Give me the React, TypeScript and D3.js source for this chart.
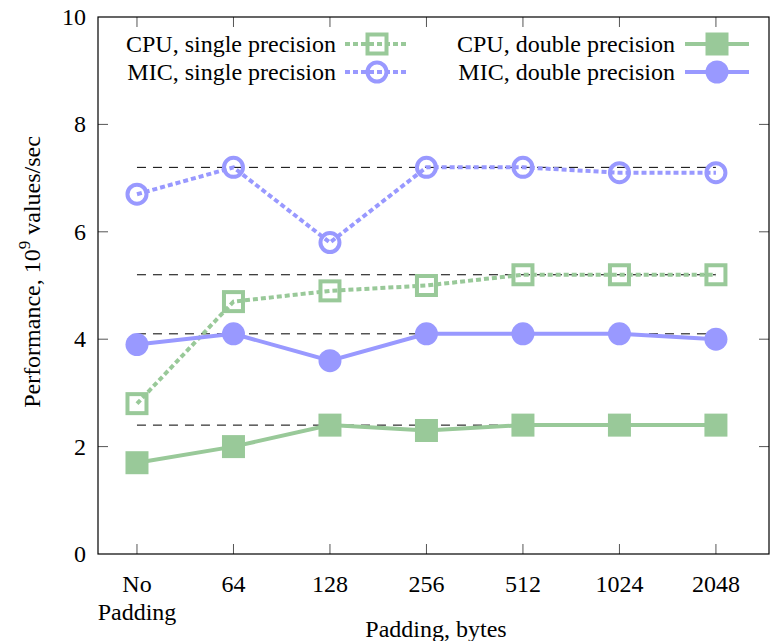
import { useEffect, useRef } from 'react';
import { select, scaleLinear, line } from 'd3';

const categories = ['No\nPadding', '64', '128', '256', '512', '1024', '2048'];
const cpuSingle = [2.8, 4.7, 4.9, 5.0, 5.2, 5.2, 5.2];
const micSingle = [6.7, 7.2, 5.8, 7.2, 7.2, 7.1, 7.1];
const cpuDouble = [1.7, 2.0, 2.4, 2.3, 2.4, 2.4, 2.4];
const micDouble = [3.9, 4.1, 3.6, 4.1, 4.1, 4.1, 4.0];
const refLevels = [7.2, 5.2, 4.1, 2.4];
const yTicks = [0, 2, 4, 6, 8, 10];

const width = 770;
const height = 641;
const margin = { top: 17, right: 1, bottom: 87, left: 98 };

const green = '#99c999';
const purple = '#9999ff';
const font = "'Liberation Serif', 'Times New Roman', Times, 'DejaVu Serif', serif";
const fs = 24;

const series = [
  { name: 'CPU, single precision', values: cpuSingle, color: green, dashed: true, marker: 'square', open: true },
  { name: 'MIC, single precision', values: micSingle, color: purple, dashed: true, marker: 'circle', open: true },
  { name: 'CPU, double precision', values: cpuDouble, color: green, dashed: false, marker: 'square', open: false },
  { name: 'MIC, double precision', values: micDouble, color: purple, dashed: false, marker: 'circle', open: false },
];

function drawMarker(g, s, cx, cy) {
  if (s.marker === 'square') {
    const size = s.open ? 19 : 23;
    g.append('rect')
      .attr('x', cx - size / 2)
      .attr('y', cy - size / 2)
      .attr('width', size)
      .attr('height', size)
      .attr('fill', s.open ? 'none' : s.color)
      .attr('stroke', s.open ? s.color : 'none')
      .attr('stroke-width', 4);
  } else {
    g.append('circle')
      .attr('cx', cx)
      .attr('cy', cy)
      .attr('r', s.open ? 9.5 : 11.5)
      .attr('fill', s.open ? 'none' : s.color)
      .attr('stroke', s.open ? s.color : 'none')
      .attr('stroke-width', 4);
  }
}

function App() {
  const ref = useRef(null);

  useEffect(() => {
    const svg = select(ref.current);
    svg.selectAll('*').remove();

    const x = scaleLinear().domain([-0.404, 6.55]).range([margin.left, width - margin.right]);
    const y = scaleLinear().domain([0, 10]).range([height - margin.bottom, margin.top]);

    const x0 = margin.left;
    const x1 = width - margin.right;
    const y0 = height - margin.bottom;
    const y1 = margin.top;

    // reference dashed lines
    svg.selectAll('.ref')
      .data(refLevels)
      .join('line')
      .attr('x1', x(0))
      .attr('x2', x(6))
      .attr('y1', (d) => y(d))
      .attr('y2', (d) => y(d))
      .attr('stroke', 'black')
      .attr('stroke-width', 1)
      .attr('stroke-dasharray', '9,7');

    // ticks
    const tickG = svg.append('g').attr('stroke', '#555').attr('stroke-width', 1);
    yTicks.forEach((t) => {
      if (t === 0 || t === 10) return;
      tickG.append('line').attr('x1', x0).attr('x2', x0 + 10).attr('y1', y(t)).attr('y2', y(t));
      tickG.append('line').attr('x1', x1 - 10).attr('x2', x1).attr('y1', y(t)).attr('y2', y(t));
    });
    categories.forEach((c, i) => {
      tickG.append('line').attr('x1', x(i)).attr('x2', x(i)).attr('y1', y0).attr('y2', y0 - 10);
      tickG.append('line').attr('x1', x(i)).attr('x2', x(i)).attr('y1', y1).attr('y2', y1 + 10);
    });

    // frame
    svg.append('rect')
      .attr('x', x0)
      .attr('y', y1)
      .attr('width', x1 - x0)
      .attr('height', y0 - y1)
      .attr('fill', 'none')
      .attr('stroke', 'black')
      .attr('stroke-width', 1.2);

    // y tick labels
    svg.selectAll('.ylab')
      .data(yTicks)
      .join('text')
      .attr('x', 86)
      .attr('y', (d) => y(d) + 8)
      .attr('text-anchor', 'end')
      .style('font-family', font)
      .attr('font-size', fs)
      .text((d) => d);

    // x tick labels
    categories.forEach((c, i) => {
      c.split('\n').forEach((part, j) => {
        svg.append('text')
          .attr('x', x(i))
          .attr('y', 592 + j * 28)
          .attr('text-anchor', 'middle')
          .style('font-family', font)
          .attr('font-size', fs)
          .text(part);
      });
    });

    // axis titles
    svg.append('text')
      .attr('x', 436)
      .attr('y', 637)
      .attr('text-anchor', 'middle')
      .style('font-family', font)
      .attr('font-size', fs)
      .text('Padding, bytes');

    const yt = svg.append('text')
      .attr('transform', 'translate(40, 272) rotate(-90)')
      .attr('text-anchor', 'middle')
      .style('font-family', font)
      .attr('font-size', fs);
    yt.append('tspan').text('Performance, 10');
    yt.append('tspan').attr('font-size', 17).attr('dy', -10).text('9');
    yt.append('tspan').attr('dy', 10).text(' values/sec');

    // series
    const lineGen = line()
      .x((d, i) => x(i))
      .y((d) => y(d));

    series.forEach((s) => {
      svg.append('path')
        .datum(s.values)
        .attr('d', lineGen)
        .attr('fill', 'none')
        .attr('stroke', s.color)
        .attr('stroke-width', 4)
        .attr('stroke-dasharray', s.dashed ? '5,3' : null);
      const mg = svg.append('g');
      s.values.forEach((v, i) => drawMarker(mg, s, x(i), y(v)));
    });

    // legend
    const legendPos = [
      { tx: 336, lx: 345, y: 44 },
      { tx: 336, lx: 345, y: 72 },
      { tx: 675, lx: 685, y: 44 },
      { tx: 675, lx: 685, y: 72 },
    ];
    series.forEach((s, i) => {
      const p = legendPos[i];
      svg.append('text')
        .attr('x', p.tx)
        .attr('y', p.y + 8)
        .attr('text-anchor', 'end')
        .style('font-family', font)
        .attr('font-size', fs)
        .text(s.name);
      svg.append('line')
        .attr('x1', p.lx)
        .attr('x2', p.lx + 64)
        .attr('y1', p.y)
        .attr('y2', p.y)
        .attr('stroke', s.color)
        .attr('stroke-width', 4)
        .attr('stroke-dasharray', s.dashed ? '5,3' : null);
      drawMarker(svg, s, p.lx + 32, p.y);
    });
  }, []);

  return <svg ref={ref} width={width} height={height} style={{ display: 'block', position: 'absolute', left: 0, top: 0, background: 'white' }} />;
}

export default App;
